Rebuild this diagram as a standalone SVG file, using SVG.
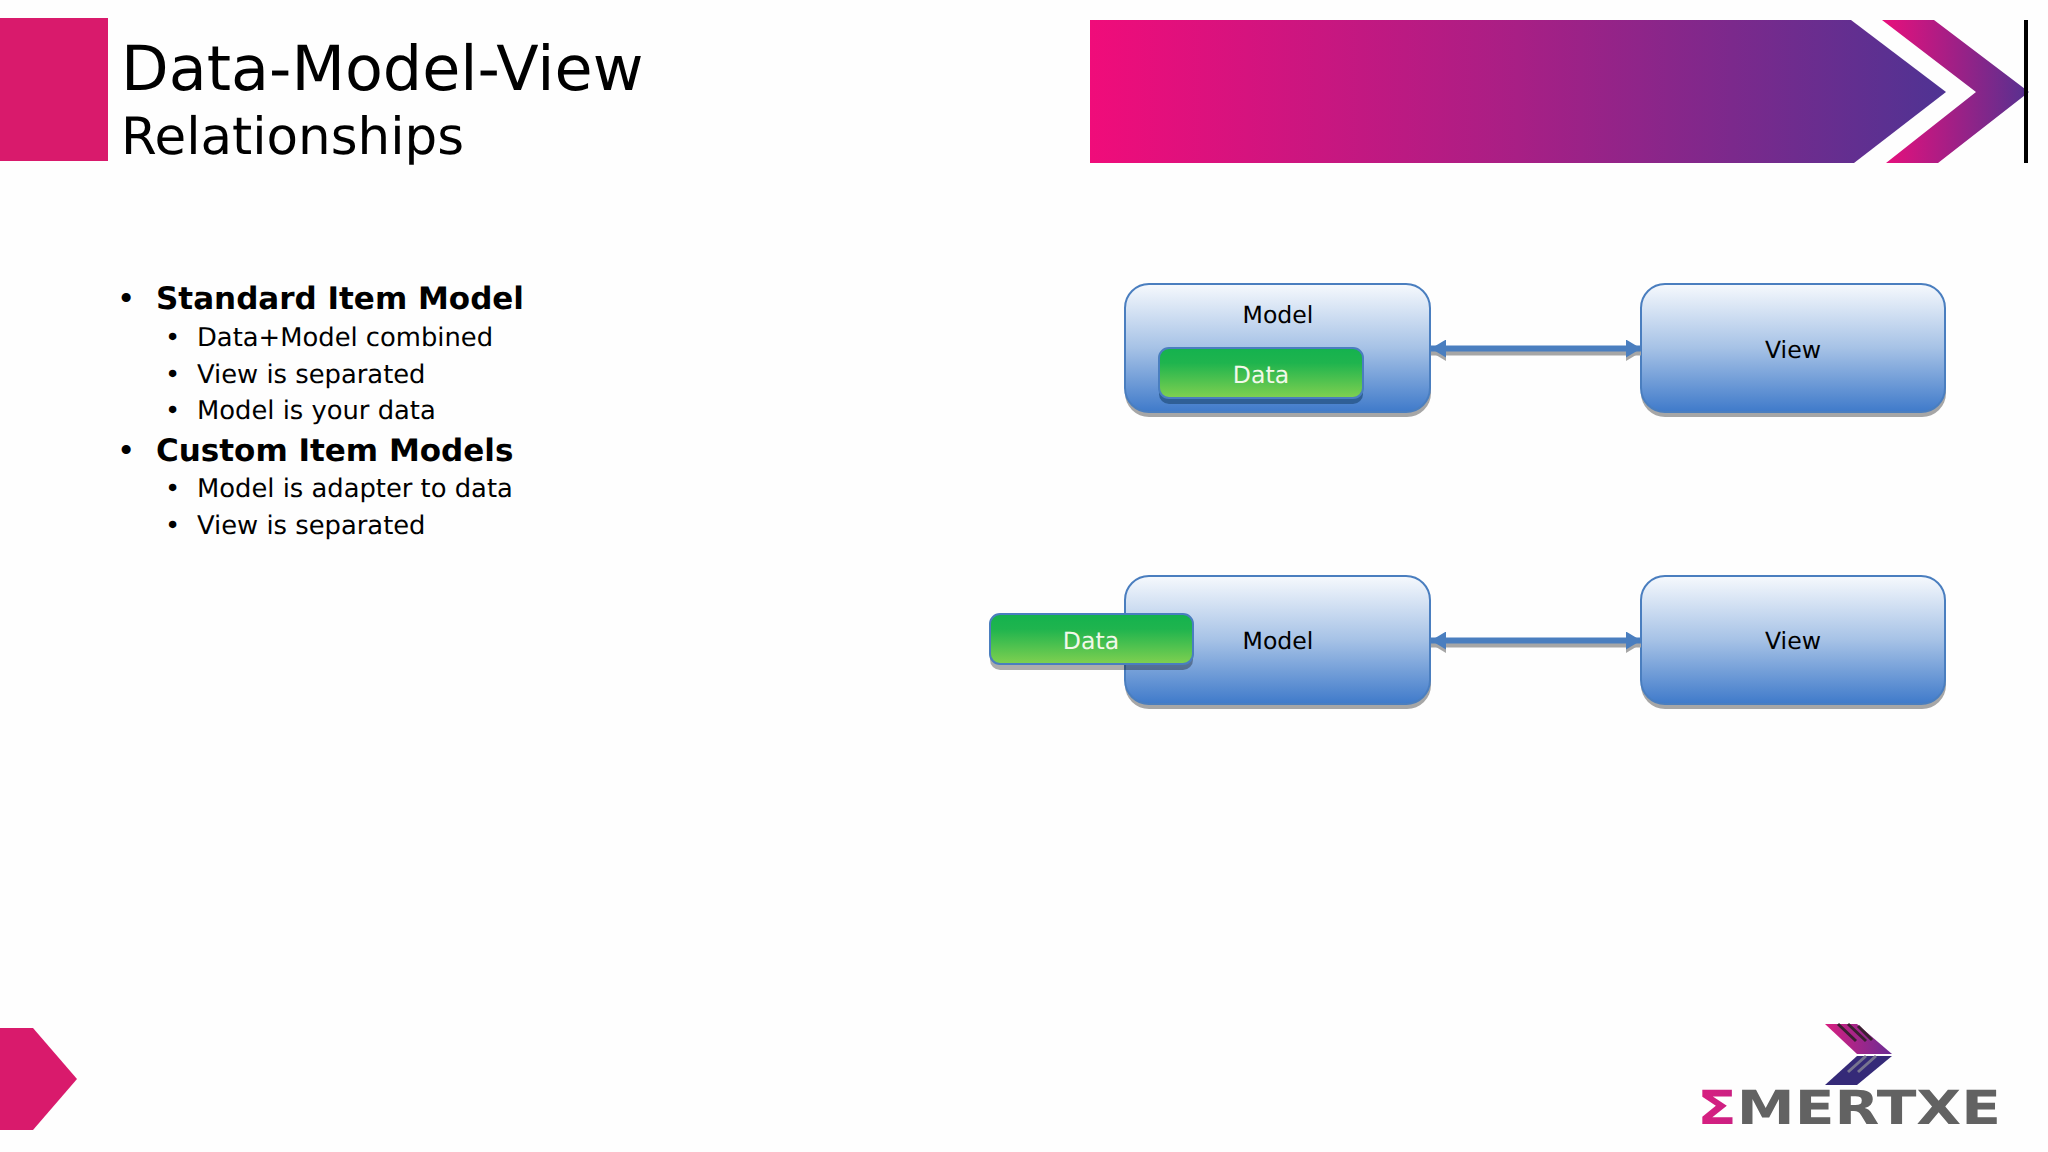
<svg xmlns="http://www.w3.org/2000/svg" width="2048" height="1152" viewBox="0 0 2048 1152">
<defs>
<linearGradient id="banner" x1="0" y1="0" x2="1" y2="0"><stop offset="0" stop-color="#f00c7a"/><stop offset="0.5" stop-color="#a81f85"/><stop offset="1" stop-color="#4f3393"/></linearGradient>
<linearGradient id="chev" x1="0" y1="0" x2="1" y2="0"><stop offset="0" stop-color="#e90f7c"/><stop offset="1" stop-color="#553190"/></linearGradient>
<linearGradient id="blue" x1="0" y1="0" x2="0" y2="1"><stop offset="0" stop-color="#f6f9fd"/><stop offset="0.5" stop-color="#a6c2e6"/><stop offset="1" stop-color="#3f7aca"/></linearGradient>
<linearGradient id="green" x1="0" y1="0" x2="0" y2="1"><stop offset="0" stop-color="#14b24e"/><stop offset="0.3" stop-color="#1fb44e"/><stop offset="1" stop-color="#80d050"/></linearGradient>
<linearGradient id="lg1" x1="0" y1="0" x2="1" y2="0"><stop offset="0" stop-color="#d81f80"/><stop offset="1" stop-color="#6a2c94"/></linearGradient>
<marker id="ah" markerUnits="userSpaceOnUse" markerWidth="16" markerHeight="18" refX="15" refY="9" orient="auto-start-reverse"><path d="M0 0L15 9L0 18z" fill="#4a7ebf"/></marker>
<marker id="ahs" markerUnits="userSpaceOnUse" markerWidth="16" markerHeight="18" refX="15" refY="9" orient="auto-start-reverse"><path d="M0 0L15 9L0 18z" fill="#a6a6a6"/></marker>
</defs>
<style>
text{font-family:"DejaVu Sans","Liberation Sans",sans-serif;fill:#000;text-rendering:geometricPrecision}
.l1{font-size:31px;font-weight:700}
.b1{font-size:31px}
.l2{font-size:25.8px}
.lab{font-size:23.6px;text-anchor:middle}
.dl{font-size:23.6px;text-anchor:middle;fill:#f2f8ea}
.box{fill:url(#blue);stroke:#4a7ebf;stroke-width:2}
.sh{fill:#a6a6a6}
.dbox{fill:url(#green);stroke:#4a7ebf;stroke-width:2}
.line{stroke:#4a7ebf;stroke-width:6;fill:none;marker-start:url(#ah);marker-end:url(#ah)}
.lines{stroke:#a6a6a6;stroke-width:7;fill:none;marker-start:url(#ahs);marker-end:url(#ahs)}
</style>
<rect width="2048" height="1152" fill="#fefefe"/>
<g id="header">
<rect x="0" y="18" width="108" height="143" fill="#d91a6c"/>
<path d="M1090 20H1851L1946 92L1854 163H1090z" fill="url(#banner)"/>
<path d="M1882 20H1934L2029 92L1938 163H1886L1976 92z" fill="url(#chev)"/>
<rect x="2024" y="20" width="4" height="143" fill="#000"/>
<text x="121" y="90" font-size="62">Data-Model-View</text>
<text x="121" y="153.500" font-size="51.500">Relationships</text>
</g>
<g id="bullets">
<text class="b1" x="117" y="309">•</text><text class="l1" x="156" y="309">Standard Item Model</text>
<text class="l2" x="165" y="346">•</text><text class="l2" x="197" y="346">Data+Model combined</text>
<text class="l2" x="165" y="382.500">•</text><text class="l2" x="197" y="382.500">View is separated</text>
<text class="l2" x="165" y="419">•</text><text class="l2" x="197" y="419">Model is your data</text>
<text class="b1" x="117" y="460.500">•</text><text class="l1" x="156" y="460.500">Custom Item Models</text>
<text class="l2" x="165" y="497">•</text><text class="l2" x="197" y="497">Model is adapter to data</text>
<text class="l2" x="165" y="533.500">•</text><text class="l2" x="197" y="533.500">View is separated</text>
</g>
<g id="model1">
<rect class="sh" x="1125" y="290" width="306" height="127" rx="24"/>
<rect class="box" x="1125" y="284" width="305" height="128" rx="24"/>
<text class="lab" x="1278" y="323">Model</text>
</g>
<g id="data1">
<rect x="1159" y="352" width="204" height="52" rx="10" fill="#2f5f96"/>
<rect class="dbox" x="1159" y="348" width="204" height="50" rx="10"/>
<text class="dl" x="1261" y="383">Data</text>
</g>
<g id="view1">
<rect class="sh" x="1641" y="290" width="305" height="127" rx="24"/>
<rect class="box" x="1641" y="284" width="304" height="128" rx="24"/>
<text class="lab" x="1793" y="358">View</text>
</g>
<g id="model2">
<rect class="sh" x="1125" y="582" width="306" height="127" rx="24"/>
<rect class="box" x="1125" y="576" width="305" height="128" rx="24"/>
<text class="lab" x="1278" y="649">Model</text>
</g>
<g id="data2">
<rect x="990" y="618" width="203" height="52" rx="10" fill="#000" fill-opacity="0.32"/>
<rect class="dbox" x="990" y="614" width="203" height="50" rx="10"/>
<text class="dl" x="1091" y="649">Data</text>
</g>
<g id="view2">
<rect class="sh" x="1641" y="582" width="305" height="127" rx="24"/>
<rect class="box" x="1641" y="576" width="304" height="128" rx="24"/>
<text class="lab" x="1793" y="649">View</text>
</g>
<g id="connectors">
<path class="lines" d="M1431 352H1641"/>
<path class="line" d="M1431 348.500H1641"/>
<path class="lines" d="M1431 644H1641"/>
<path class="line" d="M1431 640.500H1641"/>
</g>
<g id="footer">
<path d="M0 1028H33L77 1079L33 1130H0z" fill="#d91a6c"/>
<path d="M1825 1024H1857L1892 1054H1857z" fill="url(#lg1)"/>
<path d="M1857 1056H1892L1857 1085H1825z" fill="#352a78"/>
<path d="M1838 1024L1856 1041M1848 1024L1866 1041M1858 1026L1872 1040" stroke="#3a2030" stroke-width="3"/>
<path d="M1848 1072L1866 1056M1858 1072L1876 1056" stroke="#77758f" stroke-width="3"/>
<text x="1697" y="1124" font-size="47" font-weight="700" style="fill:#626262" textLength="304" lengthAdjust="spacingAndGlyphs"><tspan style="fill:url(#lg1)">Σ</tspan>MERTXE</text>
</g>
</svg>
